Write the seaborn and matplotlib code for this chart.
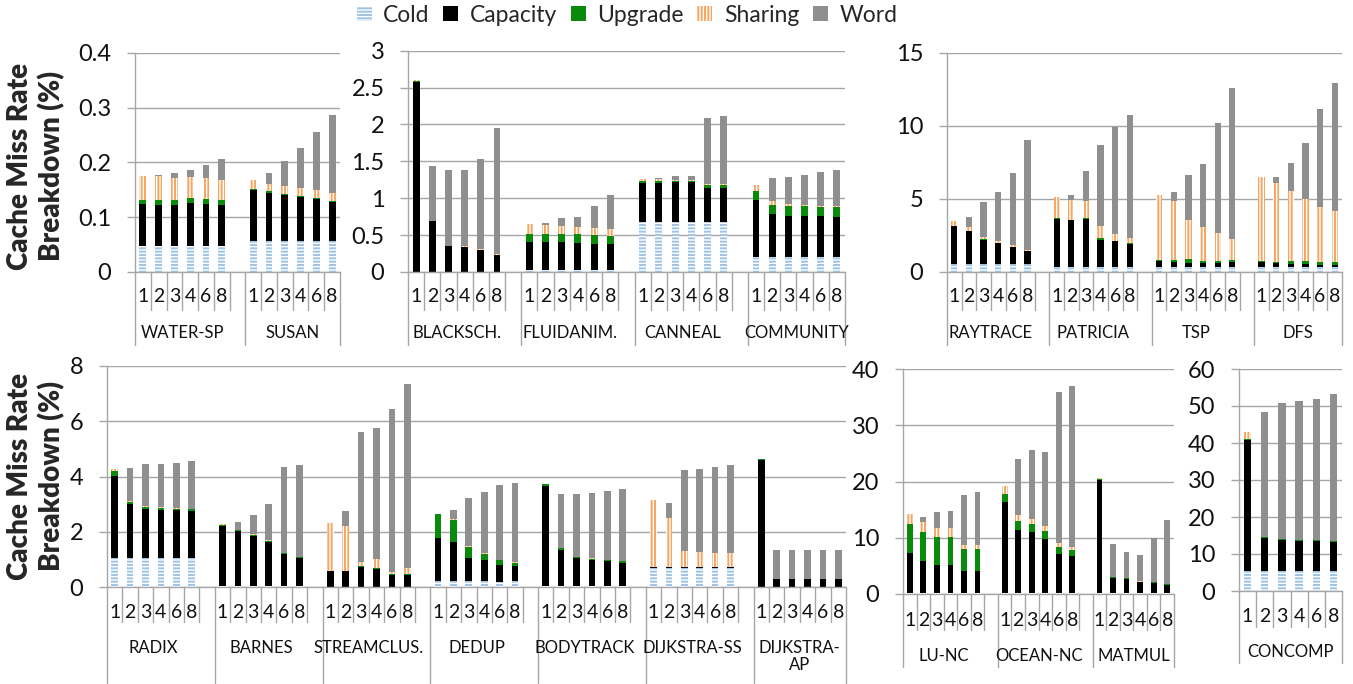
import numpy as np
import pandas as pd
import seaborn as sns
import matplotlib.pyplot as plt
from matplotlib.patches import Patch
from matplotlib.transforms import blended_transform_factory

# benchmarks in drawing order, one row of 6 thread counts each
benchmarks = ["WATER-SP", "SUSAN",
              "BLACKSCH.", "FLUIDANIM.", "CANNEAL", "COMMUNITY",
              "RAYTRACE", "PATRICIA", "TSP", "DFS",
              "RADIX", "BARNES", "STREAMCLUS.", "DEDUP", "BODYTRACK", "DIJKSTRA-SS", "DIJKSTRA-\nAP",
              "LU-NC", "OCEAN-NC", "MATMUL",
              "CONCOMP"]
threads = ["1", "2", "3", "4", "6", "8"]
components = ["Cold", "Capacity", "Upgrade", "Sharing", "Word"]

cold = [
    [0.048] * 6, [0.057] * 6,
    [0.005] * 6, [0.03] * 6, [0.68] * 6, [0.20] * 6,
    [0.55] * 6, [0.35] * 6, [0.35] * 6, [0.35] * 6,
    [1.06] * 6, [0.02] * 6, [0.01] * 6, [0.2, 0.2, 0.2, 0.2, 0.18, 0.2],
    [0.02, 0.05, 0.02, 0.02, 0.02, 0.05], [0.70] * 6, [0.01] * 6,
    [0.1] * 6, [0.1] * 6, [0.1] * 6,
    [5.3] * 6,
]
capacity = [
    [0.076, 0.074, 0.074, 0.077, 0.076, 0.074],
    [0.093, 0.088, 0.083, 0.080, 0.076, 0.070],
    [2.575, 0.685, 0.345, 0.335, 0.295, 0.225],
    [0.37, 0.37, 0.37, 0.36, 0.355, 0.345],
    [0.53, 0.53, 0.535, 0.535, 0.46, 0.46],
    [0.77, 0.59, 0.555, 0.555, 0.555, 0.55],
    [2.58, 2.24, 1.66, 1.41, 1.16, 0.89],
    [3.30, 3.19, 3.26, 1.86, 1.75, 1.59],
    [0.43, 0.36, 0.27, 0.24, 0.29, 0.31],
    [0.31, 0.24, 0.20, 0.20, 0.11, 0.11],
    [2.96, 1.93, 1.76, 1.73, 1.71, 1.68],
    [2.20, 2.01, 1.84, 1.61, 1.19, 1.04],
    [0.57, 0.58, 0.71, 0.64, 0.42, 0.42],
    [1.57, 1.42, 0.85, 0.77, 0.60, 0.55],
    [3.64, 1.30, 1.02, 0.97, 0.91, 0.83],
    [0.03] * 6,
    [4.60, 0.27, 0.27, 0.27, 0.27, 0.27],
    [7.19, 5.71, 5.11, 5.11, 4.05, 3.93],
    [16.2, 11.34, 10.86, 9.68, 6.95, 6.60],
    [20.23, 2.80, 2.63, 2.03, 1.91, 1.56],
    [35.5, 9.06, 8.43, 8.16, 8.16, 7.89],
]
upgrade = [
    [0.008, 0.010, 0.010, 0.010, 0.009, 0.010],
    [0.002] * 6,
    [0.015, 0.005, 0.003, 0.003, 0.003, 0.005],
    [0.12, 0.11, 0.115, 0.12, 0.115, 0.11],
    [0.03, 0.03, 0.02, 0.02, 0.045, 0.045],
    [0.125, 0.12, 0.135, 0.135, 0.125, 0.13],
    [0.04, 0.04, 0.03, 0.03, 0.03, 0.03],
    [0.02, 0.02, 0.09, 0.14, 0.03, 0.03],
    [0.04, 0.09, 0.27, 0.14, 0.09, 0.14],
    [0.07, 0.09, 0.18, 0.18, 0.22, 0.22],
    [0.18, 0.07, 0.08, 0.06, 0.06, 0.07],
    [0.04, 0.02, 0.02, 0.05, 0.01, 0.01],
    [0.0, 0.0, 0.04, 0.03, 0.03, 0.03],
    [0.86, 0.82, 0.40, 0.24, 0.19, 0.12],
    [0.07, 0.05, 0.03, 0.04, 0.04, 0.05],
    [0.01] * 6,
    [0.02, 0.005, 0.005, 0.005, 0.005, 0.005],
    [5.10, 5.15, 4.92, 4.92, 3.91, 3.91],
    [1.42, 1.48, 1.43, 1.36, 1.31, 1.06],
    [0.1, 0.05, 0.05, 0.05, 0.05, 0.1],
    [0.2] * 6,
]
sharing = [
    [0.043, 0.043, 0.040, 0.039, 0.038, 0.035],
    [0.015, 0.014, 0.015, 0.014, 0.014, 0.015],
    [0.005, 0.003, 0.003, 0.003, 0.003, 0.003],
    [0.13, 0.13, 0.105, 0.10, 0.10, 0.095],
    [0.02, 0.02, 0.015, 0.015, 0.01, 0.01],
    [0.085, 0.05, 0.03, 0.015, 0.015, 0.01],
    [0.30, 0.25, 0.18, 0.16, 0.09, 0.06],
    [1.44, 1.39, 1.14, 0.80, 0.50, 0.38],
    [4.48, 4.04, 2.65, 2.33, 1.96, 1.46],
    [5.75, 5.39, 4.84, 4.29, 3.77, 3.50],
    [0.08, 0.05, 0.03, 0.03, 0.03, 0.02],
    [0.01, 0.03, 0.03, 0.02, 0.02, 0.01],
    [1.72, 1.62, 0.14, 0.32, 0.08, 0.23],
    [0.02] * 6,
    [0.01] * 6,
    [2.40, 1.74, 0.55, 0.54, 0.50, 0.50],
    [0.01] * 6,
    [1.77, 1.78, 1.66, 1.54, 0.71, 0.71],
    [1.48, 1.18, 1.00, 0.95, 0.71, 0.65],
    [0.2, 0.05, 0.05, 0.05, 0.1, 0.1],
    [2.1, 0.1, 0.1, 0.1, 0.1, 0.1],
]
word = [
    [0, 0.002, 0.009, 0.012, 0.024, 0.039],
    [0, 0.020, 0.045, 0.073, 0.107, 0.142],
    [0, 0.74, 1.03, 1.04, 1.22, 1.72],
    [0, 0.025, 0.11, 0.13, 0.30, 0.46],
    [0, 0.01, 0.045, 0.045, 0.895, 0.925],
    [0, 0.31, 0.365, 0.405, 0.455, 0.49],
    [0, 0.66, 2.37, 3.35, 4.97, 7.49],
    [0, 0.30, 2.05, 5.57, 7.30, 8.38],
    [0, 0.66, 3.10, 4.31, 7.47, 10.30],
    [0, 0.46, 1.90, 3.82, 6.67, 8.77],
    [0, 1.20, 1.51, 1.58, 1.64, 1.73],
    [0, 0.29, 0.68, 1.29, 3.09, 3.33],
    [0, 0.53, 4.70, 4.74, 5.90, 6.67],
    [0, 0.33, 1.76, 2.20, 2.69, 2.86],
    [0, 1.94, 2.27, 2.35, 2.48, 2.62],
    [0, 0.57, 2.96, 3.00, 3.11, 3.17],
    [0, 1.05, 1.05, 1.05, 1.05, 1.05],
    [0, 1.01, 2.79, 3.14, 8.77, 9.54],
    [0, 9.9, 12.15, 13.1, 26.78, 28.57],
    [0, 5.83, 4.70, 4.76, 7.80, 11.30],
    [0, 33.6, 36.67, 37.54, 38.14, 39.71],
]

panel_members = [[0, 1], [2, 3, 4, 5], [6, 7, 8, 9],
                 [10, 11, 12, 13, 14, 15, 16], [17, 18, 19], [20]]
panel_ymax = [0.4, 3, 15, 8, 40, 60]
panel_ystep = [0.1, 0.5, 5, 2, 10, 10]

W, H = 1353, 684
grid_color = "#A6A6A6"
styles = {
    "Cold": dict(color="white", edgecolor="#9DC3E6", hatch="-----"),
    "Capacity": dict(color="black", edgecolor="black"),
    "Upgrade": dict(color="#0A8A0A", edgecolor="#0A8A0A"),
    "Sharing": dict(color="white", edgecolor="#F7A55E", hatch="|||||"),
    "Word": dict(color="#8F8F8F", edgecolor="#8F8F8F"),
}

# pixel layout: left spine, right edge, baseline, top gridline
boxes = [(135, 340, 272, 52.7), (408, 845, 272, 50.7), (947, 1342, 272, 52.7),
         (107, 846, 587, 366), (903, 1174, 594, 369), (1239, 1342, 591, 369)]
# digit row y, slot separator end, group label top, group separator end
under = [(297, 310, 325, 345), (297, 310, 325, 345), (297, 310, 325, 345),
         (613, 622, 640, 683), (620, 630, 648, 667), (616, 627, 644, 663)]

sns.set_theme(style="white")
plt.rcParams["font.family"] = ["Lato", "DejaVu Sans"]
plt.rcParams["hatch.linewidth"] = 1.4

fig = plt.figure(figsize=(W / 100, H / 100), dpi=100)


def fy(y):
    return (H - y) / H


for p, members in enumerate(panel_members):
    l, r, b, t = boxes[p]
    ax = fig.add_axes([l / W, fy(b), (r - l) / W, (b - t) / H])
    rows = []
    for g, k in enumerate(members):
        for j in range(len(threads)):
            vals = [cold[k][j], capacity[k][j], upgrade[k][j], sharing[k][j], word[k][j]]
            rows.append(dict(pos=g * 7 + j, **dict(zip(components, np.cumsum(vals)))))
    df = pd.DataFrame(rows)

    # cumulative bars drawn top layer first so each lower layer covers the one before
    for comp in reversed(components):
        sns.barplot(data=df, x="pos", y=comp, native_scale=True, width=0.43,
                    saturation=1, errorbar=None, linewidth=0, ax=ax, **styles[comp])

    nslots = 7 * len(members) - 1
    ax.set_xlim(-0.5, nslots - 0.5)
    ax.set_ylim(0, panel_ymax[p])
    ticks = np.arange(0, panel_ymax[p] + panel_ystep[p] / 2, panel_ystep[p])
    ax.set_yticks(ticks)
    ax.set_yticklabels([f"{v:g}" for v in ticks])
    ax.set_xticks([])
    ax.set(xlabel="", ylabel="")
    ax.set_axisbelow(True)
    ax.yaxis.grid(True, color=grid_color, lw=1.0)
    ax.tick_params(axis="y", left=True, length=6, width=1.0, color=grid_color,
                   pad=11, labelsize=17, labelcolor="#111111")
    ax.spines["top"].set_visible(False)
    ax.spines["right"].set_visible(False)
    ax.spines["left"].set_color(grid_color)
    ax.spines["bottom"].set_color(grid_color)
    ax.spines["left"].set_linewidth(1.0)
    ax.spines["bottom"].set_linewidth(1.0)

    # multi-level category axis
    tr = blended_transform_factory(ax.transData, fig.transFigure)
    digit_y, slot_end, label_y, group_end = under[p]
    for k in range(nslots + 1):
        is_group = k % 7 == 0 or k == nslots
        end = group_end if is_group else slot_end
        ax.plot([k - 0.5, k - 0.5], [fy(b), fy(end)], transform=tr,
                color=grid_color, lw=1.0, clip_on=False)
    for g, k in enumerate(members):
        for j, th in enumerate(threads):
            ax.text(g * 7 + j, fy(digit_y), th, transform=tr, ha="center",
                    va="center", fontsize=14, color="#111111")
        ax.text(g * 7 + 2.5, fy(label_y), benchmarks[k], transform=tr,
                ha="center", va="top", fontsize=12, linespacing=1.1, color="#111111")

for yc in [166, 476]:
    fig.text(0.0265, fy(yc), "Cache Miss Rate\nBreakdown (%)", rotation=90,
             ha="center", va="center", fontsize=20, fontweight="heavy", linespacing=1.2)

handles = [Patch(facecolor=styles[c]["color"], edgecolor=styles[c]["edgecolor"],
                 hatch=styles[c].get("hatch"), lw=0, label=c) for c in components]
fig.legend(handles=handles, loc="center", bbox_to_anchor=(627 / W, fy(15)), ncol=5,
           frameon=False, fontsize=16.5, handlelength=0.65, handleheight=0.65,
           handletextpad=0.5, columnspacing=0.6, borderaxespad=0)

fig.savefig("out.png", dpi=100)
